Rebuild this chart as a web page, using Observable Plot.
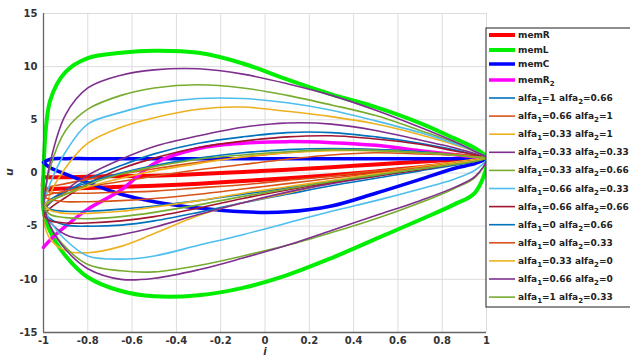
<!DOCTYPE html>
<html><head><meta charset="utf-8">
<script src="https://cdn.jsdelivr.net/npm/d3@7"></script>
<script src="https://cdn.jsdelivr.net/npm/@observablehq/plot@0.6"></script>
<style>
body{margin:0;background:#fff}
#chart{position:relative;width:630px;height:358px;overflow:hidden}
</style>
</head><body><div id="chart"></div>
<script>
// current grid (i) shared by all curves
const iGrid = [-1, -0.97, -0.9, -0.8, -0.65, -0.5, -0.3, -0.1, 0.1, 0.3, 0.5, 0.7, 0.85, 0.95, 1];

// thick reference curves: upper branch / lower branch values of u at iGrid
const memR_up  = [-0.4, -0.4, -0.4, -0.35, -0.3, -0.25, -0.1, 0.1, 0.3, 0.55, 0.8, 1.05, 1.25, 1.35, 1.4];
const memR_lo  = [-1.5, -1.5, -1.45, -1.4, -1.3, -1.2, -1.0, -0.75, -0.5, -0.2, 0.15, 0.55, 0.9, 1.2, 1.4];
const memL_up  = [0, 6.8, 9.5, 10.8, 11.3, 11.5, 11.3, 10.3, 8.8, 7.4, 6.2, 4.7, 3.3, 2.3, 1.4];
const memL_lo  = [-3.5, -5.5, -7.8, -9.8, -11.1, -11.6, -11.5, -10.8, -9.6, -8.0, -6.2, -4.4, -3.0, -1.8, 1.4];
const memC_up  = [1.0, 1.3, 1.35, 1.35, 1.35, 1.35, 1.35, 1.35, 1.35, 1.35, 1.35, 1.35, 1.35, 1.4, 1.4];
const memC_lo  = [1.0, 0.5, -0.1, -0.9, -2.0, -2.7, -3.3, -3.65, -3.65, -3.1, -1.9, -0.6, 0.4, 0.9, 1.4];
const memR2_up = [-7, -6.3, -5.0, -3.4, -1.6, 0.9, 2.3, 2.8, 2.95, 2.85, 2.6, 2.1, 1.75, 1.5, 1.4];

// fractional-order curves (alfa1, alfa2)
const a1_1_a2_066_up   = [-3.5, -2.8, -1.8, -0.6, 0.7, 1.8, 2.8, 3.4, 3.8, 3.8, 3.4, 2.8, 2.2, 1.7, 1.4];
const a1_1_a2_066_lo   = [-3.5, -4.3, -4.9, -5.0, -4.9, -4.5, -3.7, -2.8, -2.0, -1.2, -0.5, 0.2, 0.7, 1.1, 1.4];
const a1_066_a2_1_up   = [-1.5, -1.3, -1.0, -0.6, -0.1, 0.4, 1.0, 1.5, 1.9, 2.2, 2.2, 2.0, 1.8, 1.6, 1.4];
const a1_066_a2_1_lo   = [-1.5, -1.8, -1.9, -1.9, -1.8, -1.7, -1.4, -1.1, -0.7, -0.3, 0.2, 0.6, 1.0, 1.2, 1.4];
const a1_033_a2_1_up   = [-4.5, -2.0, 0.5, 2.8, 4.3, 5.2, 6.0, 6.2, 5.8, 5.3, 4.6, 3.6, 2.7, 2.0, 1.4];
const a1_033_a2_1_lo   = [-4.5, -6.2, -7.3, -7.5, -6.9, -5.7, -4.0, -2.8, -1.9, -0.9, -0.1, 0.6, 1.0, 1.3, 1.4];
const a1_033_a2_033_up = [-3.5, -2.8, -1.6, -0.2, 1.3, 2.5, 3.5, 4.3, 4.7, 4.6, 4.0, 3.1, 2.4, 1.8, 1.4];
const a1_033_a2_033_lo = [-3.5, -4.6, -5.8, -6.2, -5.8, -5.1, -3.9, -2.8, -1.8, -1.0, -0.3, 0.4, 0.9, 1.2, 1.4];
const a1_033_a2_066_up = [-3, 0.5, 4.0, 6.0, 7.3, 8.0, 8.3, 8.0, 7.3, 6.4, 5.4, 4.0, 2.9, 2.0, 1.4];
const a1_033_a2_066_lo = [-3, -5.0, -7.0, -8.6, -9.2, -9.3, -8.7, -7.8, -6.8, -5.6, -4.3, -2.8, -1.5, -0.4, 1.4];
const a1_066_a2_033_up = [-3, -1.0, 2.0, 4.6, 5.7, 6.5, 7.0, 7.0, 6.6, 5.9, 4.9, 3.8, 2.8, 2.0, 1.4];
const a1_066_a2_033_lo = [-3, -4.5, -6.3, -7.8, -8.1, -7.8, -6.8, -5.8, -4.7, -3.6, -2.6, -1.5, -0.6, 0.3, 1.4];
const a1_066_a2_066_up = [-4, -3.3, -2.3, -1.0, 0.4, 1.4, 2.4, 3.0, 3.4, 3.5, 3.2, 2.7, 2.1, 1.7, 1.4];
const a1_066_a2_066_lo = [-4, -4.5, -4.7, -4.7, -4.5, -4.1, -3.3, -2.4, -1.6, -0.9, -0.3, 0.3, 0.8, 1.1, 1.4];
const a1_0_a2_066_up   = [-3, -2.5, -1.7, -0.9, 0, 0.7, 1.4, 1.9, 2.2, 2.3, 2.2, 2.0, 1.7, 1.5, 1.4];
const a1_0_a2_066_lo   = [-3, -3.4, -3.6, -3.6, -3.4, -3.1, -2.6, -2.0, -1.4, -0.8, -0.2, 0.4, 0.8, 1.1, 1.4];
const a1_0_a2_033_up   = [-2.2, -2.0, -1.7, -1.3, -0.8, -0.3, 0.3, 0.8, 1.3, 1.7, 1.9, 1.8, 1.7, 1.5, 1.4];
const a1_0_a2_033_lo   = [-2.2, -2.5, -2.7, -2.7, -2.6, -2.4, -2.0, -1.5, -1.0, -0.5, 0, 0.5, 0.9, 1.2, 1.4];
const a1_033_a2_0_up   = [-3, -2.6, -2.0, -1.3, -0.5, 0.2, 0.9, 1.5, 1.9, 2.1, 2.1, 1.9, 1.7, 1.5, 1.4];
const a1_033_a2_0_lo   = [-3, -3.5, -3.8, -3.8, -3.6, -3.2, -2.6, -1.9, -1.3, -0.7, -0.1, 0.4, 0.9, 1.2, 1.4];
const a1_066_a2_0_up   = [-3, 1.0, 5.5, 8.0, 9.2, 9.7, 9.8, 9.3, 8.4, 7.3, 5.9, 4.3, 3.0, 2.0, 1.4];
const a1_066_a2_0_lo   = [-3, -5.0, -7.2, -9.0, -10.0, -9.9, -9.1, -8.0, -6.8, -5.4, -4.0, -2.6, -1.4, -0.3, 1.4];
const a1_1_a2_033_up   = [-3.2, -2.7, -2.0, -1.1, -0.1, 0.6, 1.3, 1.7, 2.0, 2.2, 2.1, 1.9, 1.7, 1.5, 1.4];
const a1_1_a2_033_lo   = [-3.2, -3.9, -4.2, -4.3, -4.1, -3.7, -3.0, -2.2, -1.5, -0.8, -0.2, 0.4, 0.8, 1.1, 1.4];

// legend / series descriptors
const memNames  = ["memR", "memL", "memC", "memR2"];
const memColors = ["#ff0000", "#00ee00", "#0000ff", "#ff00ff"];
const alfa1Vals = ["1", "0.66", "0.33", "0.33", "0.33", "0.66", "0.66", "0", "0", "0.33", "0.66", "1"];
const alfa2Vals = ["0.66", "1", "1", "0.33", "0.66", "0.33", "0.66", "0.66", "0.33", "0", "0", "0.33"];
const alfaColors = ["#0072BD", "#D95319", "#EDB120", "#7E2F8E", "#77AC30", "#4DBEEE", "#A2142F",
                    "#0072BD", "#D95319", "#EDB120", "#7E2F8E", "#77AC30"];

// ticks
const xTicks = [-1, -0.8, -0.6, -0.4, -0.2, 0, 0.2, 0.4, 0.6, 0.8, 1];
const yTicks = [-15, -10, -5, 0, 5, 10, 15];

const memUp = [memR_up, memL_up, memC_up, memR2_up];
const memLo = [memR_lo, memL_lo, memC_lo, null];
const alfaUp = [a1_1_a2_066_up, a1_066_a2_1_up, a1_033_a2_1_up, a1_033_a2_033_up, a1_033_a2_066_up,
  a1_066_a2_033_up, a1_066_a2_066_up, a1_0_a2_066_up, a1_0_a2_033_up, a1_033_a2_0_up, a1_066_a2_0_up, a1_1_a2_033_up];
const alfaLo = [a1_1_a2_066_lo, a1_066_a2_1_lo, a1_033_a2_1_lo, a1_033_a2_033_lo, a1_033_a2_066_lo,
  a1_066_a2_033_lo, a1_066_a2_066_lo, a1_0_a2_066_lo, a1_0_a2_033_lo, a1_033_a2_0_lo, a1_066_a2_0_lo, a1_1_a2_033_lo];

function loop(up, lo) {
  const pts = up.map((u, k) => ({i: iGrid[k], u}));
  if (lo) {
    for (let k = lo.length - 1; k >= 0; k--) {
      const p = {i: iGrid[k], u: lo[k]};
      const last = pts[pts.length - 1];
      if (last.i !== p.i || last.u !== p.u) pts.push(p);
    }
    const last = pts[pts.length - 1];
    if (last.u !== up[0]) pts.push({i: iGrid[0], u: up[0]});
  }
  return pts;
}

const marks = [
  Plot.gridX(xTicks, {stroke: "#dcdcdc", strokeOpacity: 1}),
  Plot.gridY(yTicks, {stroke: "#dcdcdc", strokeOpacity: 1}),
];
const memWidths = [4, 4, 3.5, 3.5];
memUp.forEach((up, s) => {
  marks.push(Plot.line(loop(up, memLo[s]), {x: "i", y: "u", stroke: memColors[s], strokeWidth: memWidths[s], curve: "catmull-rom"}));
});
alfaUp.forEach((up, s) => {
  marks.push(Plot.line(loop(up, alfaLo[s]), {x: "i", y: "u", stroke: alfaColors[s], strokeWidth: 1.6, curve: "catmull-rom"}));
});
marks.push(Plot.ruleX([-1], {stroke: "#666", strokeWidth: 1.3}));
marks.push(Plot.ruleY([-15], {stroke: "#666", strokeWidth: 1.3}));
marks.push(Plot.axisX(xTicks, {tickSize: 0, tickPadding: 4, tickFormat: d => String(d), label: null,
  fontSize: 10, fontWeight: "bold", fill: "#333"}));
marks.push(Plot.axisY(yTicks, {tickSize: 0, tickPadding: 6, tickFormat: d => String(d), label: null,
  fontSize: 10, fontWeight: "bold", fill: "#333"}));

const chart = Plot.plot({
  width: 630, height: 358,
  marginLeft: 43, marginRight: 144, marginTop: 13, marginBottom: 26,
  x: {domain: [-1, 1]},
  y: {domain: [-15, 15]},
  style: {fontFamily: "DejaVu Sans", background: "#fff"},
  marks
});
document.getElementById("chart").appendChild(chart);

// axis titles and legend
const svg = d3.select(chart);
svg.append("text").attr("transform", "translate(13,172) rotate(-90)")
  .attr("text-anchor", "middle").attr("font-family", "DejaVu Sans").attr("font-weight", "bold")
  .attr("font-style", "italic").attr("font-size", 11).attr("fill", "#333").text("u");
svg.append("text").attr("x", 265).attr("y", 355)
  .attr("text-anchor", "middle").attr("font-family", "DejaVu Sans").attr("font-weight", "bold")
  .attr("font-style", "italic").attr("font-size", 10).attr("fill", "#333").text("i");

const lg = svg.append("g").attr("font-family", "DejaVu Sans").attr("font-weight", "bold")
  .attr("font-size", 9).attr("fill", "#222").attr("text-anchor", "start");
lg.append("rect").attr("x", 486).attr("y", 28).attr("width", 160).attr("height", 279)
  .attr("fill", "#fff").attr("stroke", "#444").attr("stroke-width", 1.2);
const memY = [35, 50, 64, 80];
memNames.forEach((n, k) => {
  const y = memY[k];
  lg.append("line").attr("x1", 489).attr("x2", 515).attr("y1", y).attr("y2", y)
    .attr("stroke", memColors[k]).attr("stroke-width", memWidths[k]);
  const t = lg.append("text").attr("x", 518).attr("y", y + 3);
  if (n === "memR2") {
    t.append("tspan").text("memR");
    t.append("tspan").attr("dy", 3).attr("font-size", 7).text("2");
  } else t.text(n);
});
alfa1Vals.forEach((a1, k) => {
  const y = 98 + k * 18.1;
  lg.append("line").attr("x1", 489).attr("x2", 515).attr("y1", y).attr("y2", y)
    .attr("stroke", alfaColors[k]).attr("stroke-width", 1.6);
  const t = lg.append("text").attr("x", 518).attr("y", y + 3);
  t.append("tspan").text("alfa");
  t.append("tspan").attr("dy", 3).attr("font-size", 7).text("1");
  t.append("tspan").attr("dy", -3).text("=" + a1 + " alfa");
  t.append("tspan").attr("dy", 3).attr("font-size", 7).text("2");
  t.append("tspan").attr("dy", -3).text("=" + alfa2Vals[k]);
});
</script>
</body></html>
